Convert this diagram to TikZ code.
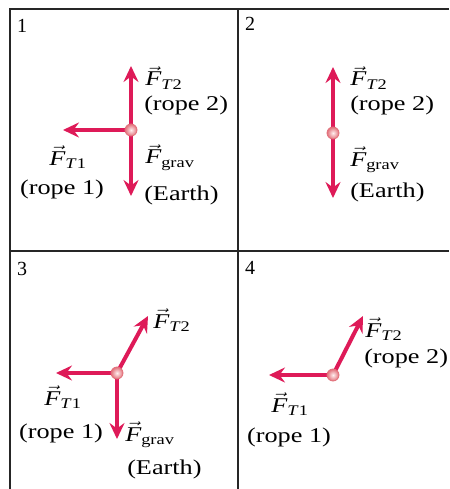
\documentclass[tikz,border=0pt]{standalone}
\usepackage{amsmath}
\usepackage{fontspec}
\setmainfont{Liberation Serif}
\usetikzlibrary{arrows.meta}
\definecolor{forceRed}{RGB}{222,26,88}
\definecolor{dotRim}{RGB}{226,112,122}
\newcommand{\forceVec}[1]{$\vec{\textit{F}}_{\text{#1}}$}

\begin{document}
\begin{tikzpicture}[x=1pt, y=-1pt,
    fbdFrame/.style={line width=1.3pt, black!85},
    fbdArrow/.style={-{Stealth[length=16pt, width=15pt, inset=5.5pt]}, line width=4pt, forceRed},
    fbdDot/.style={circle, inner sep=0pt, minimum size=12pt, draw=dotRim, line width=0.8pt, inner color=red!6, outer color=dotRim},
    fbdLabel/.style={inner sep=0pt, font=\fontsize{21}{24}\selectfont, xscale=1.25},
    fbdNum/.style={inner sep=0pt, font=\fontsize{20}{22}\selectfont, anchor=base west}]

    \useasboundingbox[fill=white] (0,0) rectangle (449,489);

    % Panels
    \draw[fbdFrame] (449,9) -| (10,489);
    \draw[fbdFrame] (238,9) -- (238,489);
    \draw[fbdFrame] (10,251) -- (449,251);
    \node[fbdNum] (numOne) at (17,33) {1};
    \node[fbdNum] (numTwo) at (245,31) {2};
    \node[fbdNum] (numThree) at (17,275) {3};
    \node[fbdNum] (numFour) at (245,274) {4};

    % Panel 1
    \coordinate (oneO) at (131,130);
    \coordinate (oneUp) at (131,66);
    \coordinate (oneDown) at (131,196);
    \coordinate (oneLeft) at (63,130);
    \draw[fbdArrow] (oneO) -- (oneUp);
    \draw[fbdArrow] (oneO) -- (oneDown);
    \draw[fbdArrow] (oneO) -- (oneLeft);
    \node[fbdDot] (oneDot) at (oneO) {};
    \node[fbdLabel, anchor=base west] (oneFT2) at (145,86) {\forceVec{\textit{T}2}};
    \node[fbdLabel, anchor=base west] (oneRope2) at (144,111) {(rope 2)};
    \node[fbdLabel, anchor=base west] (oneFgrav) at (145,164) {\forceVec{grav}};
    \node[fbdLabel, anchor=base west] (oneEarth) at (144,200) {(Earth)};
    \node[fbdLabel, anchor=base] (oneFT1) at (68,165) {\forceVec{\textit{T}1}};
    \node[fbdLabel, anchor=base] (oneRope1) at (62,194) {(rope 1)};

    % Panel 2
    \coordinate (twoO) at (333,133);
    \coordinate (twoUp) at (333,67);
    \coordinate (twoDown) at (333,198);
    \draw[fbdArrow] (twoO) -- (twoUp);
    \draw[fbdArrow] (twoO) -- (twoDown);
    \node[fbdDot] (twoDot) at (twoO) {};
    \node[fbdLabel, anchor=base west] (twoFT2) at (350,86) {\forceVec{\textit{T}2}};
    \node[fbdLabel, anchor=base west] (twoRope2) at (350,111) {(rope 2)};
    \node[fbdLabel, anchor=base west] (twoFgrav) at (350,166) {\forceVec{grav}};
    \node[fbdLabel, anchor=base west] (twoEarth) at (350,197) {(Earth)};

    % Panel 3
    \coordinate (threeO) at (117,373);
    \coordinate (threeUp) at (148,316);
    \coordinate (threeDown) at (117,439);
    \coordinate (threeLeft) at (56,373);
    \draw[fbdArrow] (threeO) -- (threeUp);
    \draw[fbdArrow] (threeO) -- (threeDown);
    \draw[fbdArrow] (threeO) -- (threeLeft);
    \node[fbdDot] (threeDot) at (threeO) {};
    \node[fbdLabel, anchor=base west] (threeFT2) at (153,328) {\forceVec{\textit{T}2}};
    \node[fbdLabel, anchor=base] (threeFT1) at (63,405) {\forceVec{\textit{T}1}};
    \node[fbdLabel, anchor=base] (threeRope1) at (61,438) {(rope 1)};
    \node[fbdLabel, anchor=base west] (threeFgrav) at (125,441) {\forceVec{grav}};
    \node[fbdLabel, anchor=base west] (threeEarth) at (127,474) {(Earth)};

    % Panel 4
    \coordinate (fourO) at (333,375);
    \coordinate (fourUp) at (363,316);
    \coordinate (fourLeft) at (269,375);
    \draw[fbdArrow] (fourO) -- (fourUp);
    \draw[fbdArrow] (fourO) -- (fourLeft);
    \node[fbdDot] (fourDot) at (fourO) {};
    \node[fbdLabel, anchor=base west] (fourFT2) at (365,337) {\forceVec{\textit{T}2}};
    \node[fbdLabel, anchor=base west] (fourRope2) at (364,363) {(rope 2)};
    \node[fbdLabel, anchor=base] (fourFT1) at (290,412) {\forceVec{\textit{T}1}};
    \node[fbdLabel, anchor=base] (fourRope1) at (289,442) {(rope 1)};
\end{tikzpicture}
\end{document}
